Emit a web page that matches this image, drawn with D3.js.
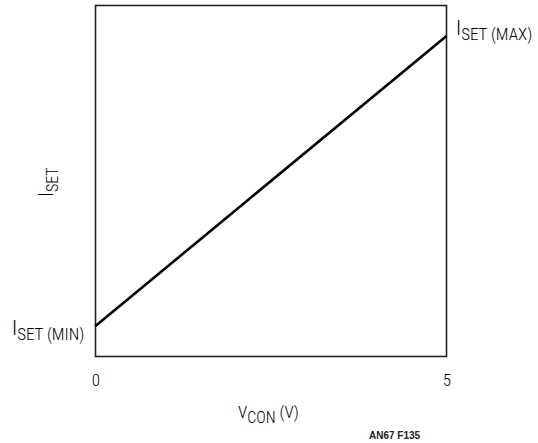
<!DOCTYPE html>
<html><head><meta charset="utf-8">
<script src="https://cdn.jsdelivr.net/npm/d3@7"></script>
<style>
body{margin:0;background:#fff;}
text{font-family:"Roboto Condensed","Liberation Sans",Arial,sans-serif;font-weight:300;fill:#000;}
text.note{font-family:"Liberation Sans",Arial,sans-serif;font-weight:bold;fill:#222;}
</style></head>
<body><svg id="c" width="538" height="443"></svg>
<script>
const vcon = [0, 5];
const iset = [0.087, 0.913];
const xTicks = [0, 5];
const xDomain = [0, 5];
const yDomain = [0, 1];

const svg = d3.select("#c");
const m = {l:95.5, t:5.5, r:446.5, b:356.5};
const x = d3.scaleLinear().domain(xDomain).range([m.l, m.r]);
const y = d3.scaleLinear().domain(yDomain).range([m.b, m.t]);

svg.append("rect").attr("x", m.l).attr("y", m.t).attr("width", m.r-m.l).attr("height", m.b-m.t)
  .attr("fill","none").attr("stroke","#222").attr("stroke-width",1.6);

const pts = vcon.map((v,i)=>[v, iset[i]]);
svg.append("path").datum(pts)
  .attr("d", d3.line().x(d=>x(d[0])).y(d=>y(d[1])))
  .attr("fill","none").attr("stroke","#000").attr("stroke-width",2.6);

// x tick labels
const xAxis = d3.axisBottom(x).tickValues(xTicks).tickFormat(d3.format("d")).tickSize(0).tickPadding(0);
const gx = svg.append("g").attr("transform",`translate(0,${m.b+17})`).call(xAxis);
gx.select(".domain").remove();
gx.selectAll("text").attr("font-size",17);

function subLabel(xp, yp, main, sub, ms, ss, dy){
  const t = svg.append("text").attr("x",xp).attr("y",yp).attr("font-size",ms);
  t.append("tspan").text(main);
  t.append("tspan").attr("font-size",ss).attr("dy",dy).text(sub);
  return t;
}
subLabel(12, y(iset[0])+9, "I", "SET (MIN)", 21, 17, 5);
subLabel(456, y(iset[1])-1, "I", "SET (MAX)", 21, 17, 5);

// x axis title
const xt = svg.append("text").attr("x",238).attr("y",418).attr("font-size",17);
xt.append("tspan").text("V");
xt.append("tspan").attr("font-size",16).attr("dy",5).text("CON");
xt.append("tspan").attr("dy",-5).text(" (V)");

// y axis title
const yt = svg.append("text").attr("transform","translate(53,197) rotate(-90)").attr("font-size",20);
yt.append("tspan").text("I");
yt.append("tspan").attr("font-size",16).attr("dy",5).text("SET");

svg.append("text").attr("class","note").attr("x",369).attr("y",439).attr("font-size",10).text("AN67 F135");
</script></body></html>
